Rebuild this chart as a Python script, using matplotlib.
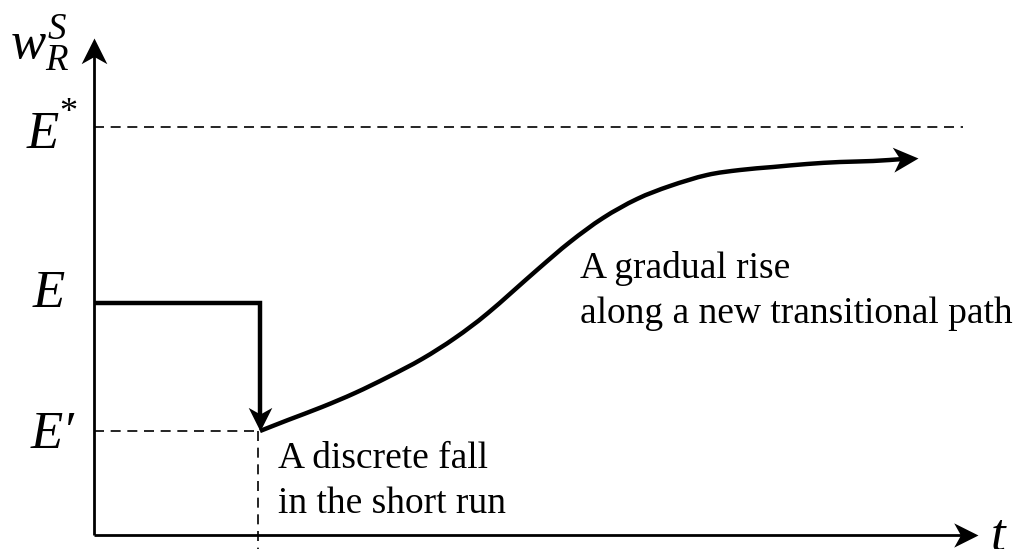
import numpy as np
import matplotlib
matplotlib.use("Agg")
import matplotlib.pyplot as plt
from matplotlib.path import Path
from matplotlib.patches import PathPatch
from matplotlib.markers import MarkerStyle
from matplotlib.transforms import Affine2D

plt.rcParams['mathtext.fontset'] = 'custom'
plt.rcParams['mathtext.rm'] = 'Liberation Serif'
plt.rcParams['mathtext.it'] = 'Liberation Serif:italic'
plt.rcParams['font.family'] = ['Liberation Serif', 'DejaVu Serif']

# ---- data ----
E_star = 4.08
E_level = 2.32
E_prime = 1.04
t_shock = 1.66
t_axis_end = 8.84
w_axis_end = 4.97
t_star_end = 8.69

path_t = [1.66, 1.94, 2.28, 2.61, 2.94, 3.28, 3.61, 3.94, 4.43, 4.76,
          5.09, 5.43, 5.76, 6.13, 6.46, 6.79, 7.13, 7.46, 7.79, 8.24]
path_w = [1.04, 1.15, 1.28, 1.42, 1.58, 1.76, 1.97, 2.22, 2.65, 2.93,
          3.17, 3.36, 3.49, 3.60, 3.65, 3.68, 3.71, 3.73, 3.74, 3.77]

level_labels = ['E', 'E', 'E\u2032']
ylabel = r'$w_R^S$'
xlabel = 't'
note_fall = "A discrete fall\nin the short run"
note_rise = "A gradual rise\nalong a new transitional path"

# ---- figure ----
fig = plt.figure(figsize=(10.23, 5.49), dpi=100)
ax = fig.add_axes([0, 0, 1, 1])
ax.set_xlim(-0.94, 9.29)
ax.set_ylim(-0.14, 5.35)
ax.axis('off')


def stealth(angle_deg):
    verts = [(0, 0), (-1, 0.5), (-0.72, 0), (-1, -0.5), (0, 0)]
    codes = [Path.MOVETO, Path.LINETO, Path.LINETO, Path.LINETO, Path.CLOSEPOLY]
    return MarkerStyle(Path(verts, codes), transform=Affine2D().rotate_deg(angle_deg))


def smooth_path(xs, ys):
    """Catmull-Rom curve through the given points, as cubic Bezier segments."""
    p = np.column_stack([xs, ys]).astype(float)
    ext = np.vstack([2 * p[0] - p[1], p, 2 * p[-1] - p[-2]])
    verts = [tuple(p[0])]
    codes = [Path.MOVETO]
    for i in range(1, len(ext) - 2):
        p0, p1, p2, p3 = ext[i - 1], ext[i], ext[i + 1], ext[i + 2]
        c1 = p1 + (p2 - p0) / 6.0
        c2 = p2 - (p3 - p1) / 6.0
        verts += [tuple(c1), tuple(c2), tuple(p2)]
        codes += [Path.CURVE4] * 3
    return Path(verts, codes)


axis_lw = 2.0
# axes
ax.plot([0, 0], [0, w_axis_end - 0.1], color='black', lw=axis_lw, solid_capstyle='butt')
ax.plot([0, t_axis_end - 0.1], [0, 0], color='black', lw=axis_lw, solid_capstyle='butt')
ax.plot([0], [w_axis_end], marker=stealth(90), ms=37, color='black', mew=0)
ax.plot([t_axis_end], [0], marker=stealth(0), ms=35, color='black', mew=0)

# dashed guides
dash = dict(color='black', lw=1.2, dashes=(6, 4))
ax.plot([0, t_star_end], [E_star, E_star], **dash)
ax.plot([0, t_shock - 0.02], [E_prime, E_prime], **dash)
ax.plot([t_shock - 0.02, t_shock - 0.02], [E_prime, -0.14], **dash)

# path: initial level and discrete fall
main_lw = 3.2
ax.plot([0, t_shock, t_shock], [E_level, E_level, E_prime + 0.1], color='black',
        lw=main_lw, solid_joinstyle='miter', solid_capstyle='butt')
ax.plot([t_shock], [E_prime], marker=stealth(-90), ms=34, color='black', mew=0)

# gradual rise
curve_t = path_t[:-1] + [path_t[-1] - 0.12]
curve_w = path_w[:-1] + [path_w[-1] - 0.008]
ax.add_patch(PathPatch(smooth_path(curve_t, curve_w), fill=False, edgecolor='black',
                       lw=main_lw, capstyle='butt', joinstyle='round'))
ang = np.degrees(np.arctan2(path_w[-1] - path_w[-2], path_t[-1] - path_t[-2]))
ax.plot([path_t[-1]], [path_w[-1]], marker=stealth(ang), ms=36, color='black', mew=0)

# labels
fs_big = 38
ax.text(-0.35, E_star - 0.21, level_labels[0], fontsize=fs_big, ha='right', va='baseline', style='italic')
ax.text(-0.35, E_star + 0.05, '*', fontsize=26, ha='left', va='baseline')
ax.text(-0.29, E_level - 0.04, level_labels[1], fontsize=fs_big, ha='right', va='baseline', style='italic')
ax.text(-0.20, E_prime - 0.17, level_labels[2], fontsize=fs_big, ha='right', va='baseline', style='italic')
ax.text(-0.84, 4.92, ylabel, fontsize=fs_big, ha='left', va='center')
ax.text(t_axis_end + 0.13, -0.14, xlabel, fontsize=fs_big, ha='left', va='baseline', style='italic')

fs_note = 27
ax.text(1.84, 0.93, note_fall, fontsize=fs_note, ha='left', va='top', linespacing=1.38)
ax.text(4.86, 2.84, note_rise, fontsize=fs_note, ha='left', va='top', linespacing=1.38)

fig.savefig('out.png', dpi=100)
